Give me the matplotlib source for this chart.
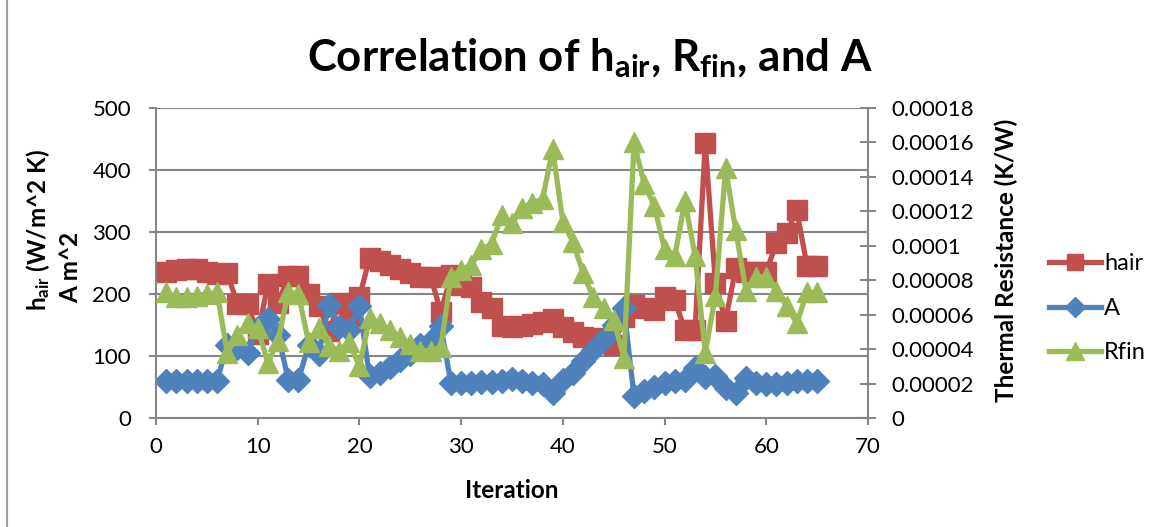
import numpy as np
import matplotlib.pyplot as plt
from matplotlib.lines import Line2D
from matplotlib.ticker import MultipleLocator, FuncFormatter

plt.rcParams['font.family'] = ['Lato', 'DejaVu Sans']
plt.rcParams['mathtext.fontset'] = 'custom'
plt.rcParams['mathtext.default'] = 'regular'

# iteration number for every run
iteration = list(range(1, 66))

# heat transfer coefficient, W/m^2 K
hair = [236, 238, 241, 240, 236, 233, 234, 184, 184, 135,
        216, 185, 229, 229, 200, 180, 140, 185, 165, 195,
        258, 253, 247, 240, 234, 228, 228, 171, 230, 215,
        211, 187, 177, 148, 147, 149, 152, 155, 160, 147,
        139, 131, 129, 121, 117, 163, 182, 177, 175, 195,
        190, 142, 142, 443, 217, 157, 242, 236, 236, 236,
        282, 298, 335, 246, 246]

# fin area, m^2
A = [60, 60, 60, 60, 60, 60, 118, 113, 105, 145,
     160, 134, 62, 62, 117, 104, 183, 147, 142, 180,
     67, 73, 82, 93, 104, 118, 124, 148, 56, 57,
     57, 58, 58, 60, 63, 59, 57, 55, 41, 62,
     72, 92, 110, 127, 150, 177, 35, 44, 50, 56,
     60, 61, 80, 66, 68, 49, 40, 64, 56, 55,
     55, 57, 59, 59, 60]

# fin thermal resistance, K/W (x1e-5)
Rfin = np.array([7.3, 7.0, 7.0, 7.1, 7.2, 7.3, 3.8, 4.8, 5.5, 5.2,
                 3.2, 4.5, 7.3, 7.2, 4.4, 5.2, 4.2, 3.9, 4.4, 3.0,
                 5.8, 5.5, 5.1, 4.7, 4.3, 3.9, 3.9, 4.1, 8.2, 8.6,
                 8.9, 9.8, 10.1, 11.8, 11.3, 12.2, 12.5, 12.7, 15.6, 11.4,
                 10.2, 8.4, 7.0, 6.4, 5.7, 3.5, 16.0, 13.6, 12.3, 9.8,
                 9.4, 12.6, 9.4, 3.8, 7.1, 14.5, 10.9, 7.4, 8.2, 8.2,
                 7.4, 6.5, 5.5, 7.3, 7.3]) * 1e-5

red = '#C0504D'
blue = '#4F81BD'
green = '#9BBB59'
gray = '#868686'

fig = plt.figure(figsize=(11.61, 5.27), dpi=100)
ax = fig.add_axes([0.1344, 0.2068, 0.6132, 0.5882])
ax2 = ax.twinx()

ax.plot(iteration, hair, color=red, lw=3.8, marker='s', ms=14, label='hair')
ax.plot(iteration, A, color=blue, lw=3.8, marker='D', ms=12.5, label='A')
ax2.plot(iteration, Rfin, color=green, lw=3.8, marker='^', ms=15, label='Rfin')

ax.set_xlim(0, 70)
ax.set_ylim(0, 500)
ax2.set_ylim(0, 0.00018)
ax.xaxis.set_major_locator(MultipleLocator(10))
ax.yaxis.set_major_locator(MultipleLocator(100))
ax2.yaxis.set_major_locator(MultipleLocator(0.00002))
ax2.yaxis.set_major_formatter(FuncFormatter(
    lambda v, p: ('%.5f' % v).rstrip('0').rstrip('.')))

ax.grid(axis='y', color=gray, lw=1.5)
ax.set_axisbelow(True)
for a in (ax, ax2):
    for s in a.spines.values():
        s.set_visible(False)
    a.tick_params(labelsize=16, color=gray, width=1.5, length=5)
ax.spines['left'].set_visible(True)
ax.spines['bottom'].set_visible(True)
ax2.spines['right'].set_visible(True)
for s in ('left', 'bottom'):
    ax.spines[s].set_color(gray)
    ax.spines[s].set_linewidth(1.5)
ax2.spines['right'].set_color(gray)
ax2.spines['right'].set_linewidth(1.5)
ax.tick_params(axis='y', pad=13)
ax.tick_params(axis='x', pad=9)
ax2.tick_params(axis='y', direction='inout', length=12, pad=11)

fig.text(0.441, 0.07, 'Iteration', fontsize=17.5, fontweight='bold',
         ha='center', va='center')
fig.text(0.033, 0.563, 'h$_{air}$ (W/m^2 K)', rotation=90, fontsize=17.5,
         fontweight='bold', ha='center', va='center')
fig.text(0.061, 0.493, 'A m^2', rotation=90, fontsize=17.5,
         fontweight='bold', ha='center', va='center')
fig.text(0.867, 0.505, 'Thermal Resistance (K/W)', rotation=90,
         fontsize=17.5, fontweight='bold', ha='center', va='center')

fig.text(0.508, 0.89, 'Correlation of h$_{air}$, R$_{fin}$, and A',
         fontsize=31.5, fontweight='bold', ha='center', va='center')

handles = ax.get_lines() + ax2.get_lines()
fig.legend(handles, [h.get_label() for h in handles], loc='center left',
           bbox_to_anchor=(0.893, 0.415), frameon=False, fontsize=17,
           handlelength=2.2, handletextpad=0.15, labelspacing=1.0,
           markerscale=0.85, borderpad=0)

fig.add_artist(Line2D([0.006, 0.006], [0, 1], color='#A0A0A0', lw=1.5))

fig.savefig('out.png', dpi=100)
